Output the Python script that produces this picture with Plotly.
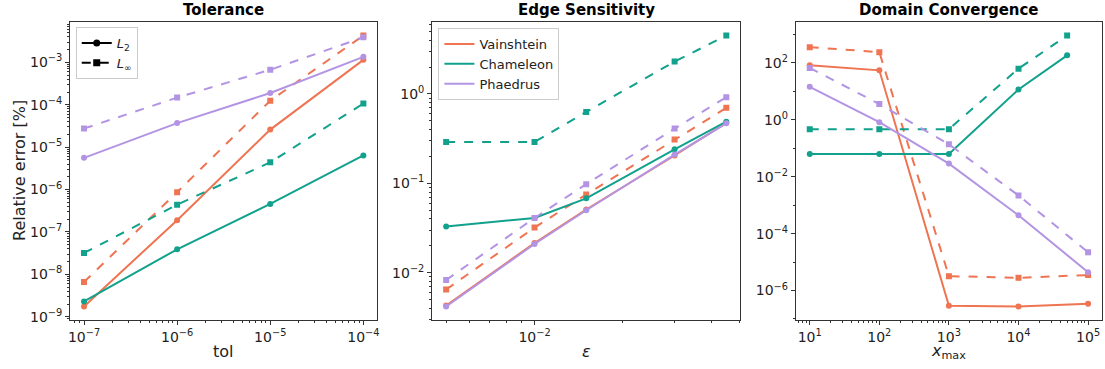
import numpy as np
import plotly.graph_objects as go

# ---------------- data ----------------
tol = [1e-7, 1e-6, 1e-5, 1e-4]
tol_vain_l2 = [1.75e-9, 1.9e-7, 2.6e-5, 1.15e-3]
tol_vain_linf = [6.6e-9, 8.7e-7, 1.25e-4, 4.3e-3]
tol_cham_l2 = [2.3e-9, 3.9e-8, 4.6e-7, 6.4e-6]
tol_cham_linf = [3.2e-8, 4.4e-7, 4.4e-6, 1.07e-4]
tol_phae_l2 = [5.6e-6, 3.7e-5, 1.9e-4, 1.35e-3]
tol_phae_linf = [2.75e-5, 1.48e-4, 6.7e-4, 3.9e-3]

eps = [0.005, 0.01, 0.015, 0.03, 0.045]
eps_vain_l2 = [0.0043, 0.0215, 0.051, 0.205, 0.475]
eps_vain_linf = [0.0065, 0.032, 0.075, 0.31, 0.70]
eps_cham_l2 = [0.033, 0.041, 0.068, 0.24, 0.49]
eps_cham_linf = [0.29, 0.29, 0.63, 2.3, 4.5]
eps_phae_l2 = [0.0042, 0.021, 0.050, 0.21, 0.47]
eps_phae_linf = [0.0083, 0.041, 0.098, 0.41, 0.92]

xmax = [1e1, 1e2, 1e3, 1e4, 1e5]
xmax_cham = [1e1, 1e2, 1e3, 1e4, 5e4]
dom_vain_l2 = [83, 55, 2.9e-7, 2.75e-7, 3.4e-7]
dom_vain_linf = [360, 240, 3.2e-6, 2.8e-6, 3.5e-6]
dom_cham_l2 = [0.063, 0.063, 0.063, 11.7, 185]
dom_cham_linf = [0.47, 0.47, 0.47, 63, 920]
dom_phae_l2 = [14.5, 0.83, 0.029, 4.4e-4, 4.4e-6]
dom_phae_linf = [67, 3.6, 0.138, 2.2e-3, 2.2e-5]

series_names = ["Vainshtein", "Chameleon", "Phaedrus"]
colors = ["#EE7452", "#11A18C", "#B394E4"]

panel_titles = ["Tolerance", "Edge Sensitivity", "Domain Convergence"]

W, H = 1105, 369
TOP, BOT = 22, 320
FONT = "DejaVu Sans"

fig = go.Figure()


def add_pair(x, yl2, ylinf, color, xa, ya):
    fig.add_trace(go.Scatter(x=x, y=yl2, mode="lines+markers", xaxis=xa, yaxis=ya,
                             line=dict(color=color, width=2),
                             marker=dict(symbol="circle", size=6, color=color),
                             showlegend=False))
    fig.add_trace(go.Scatter(x=x, y=ylinf, mode="lines+markers", xaxis=xa, yaxis=ya,
                             line=dict(color=color, width=2, dash="dash"),
                             marker=dict(symbol="square", size=6, color=color),
                             showlegend=False))


panels = [
    ([(tol_vain_l2, tol_vain_linf, tol), (tol_cham_l2, tol_cham_linf, tol), (tol_phae_l2, tol_phae_linf, tol)], "x", "y"),
    ([(eps_vain_l2, eps_vain_linf, eps), (eps_cham_l2, eps_cham_linf, eps), (eps_phae_l2, eps_phae_linf, eps)], "x2", "y2"),
    ([(dom_vain_l2, dom_vain_linf, xmax), (dom_cham_l2, dom_cham_linf, xmax_cham), (dom_phae_l2, dom_phae_linf, xmax)], "x3", "y3"),
]

ranges = []
for groups, xa, ya in panels:
    allx, ally = [], []
    for (l2, linf, xv), c in zip(groups, colors):
        add_pair(xv, l2, linf, c, xa, ya)
        allx += list(xv)
        ally += list(l2) + list(linf)
    lx = np.log10(allx)
    ly = np.log10(ally)
    mx = 0.05 * (lx.max() - lx.min())
    my = 0.05 * (ly.max() - ly.min())
    ranges.append(([lx.min() - mx, lx.max() + mx], [ly.min() - my, ly.max() + my]))

# legend 1 entries (norm types)
fig.add_trace(go.Scatter(x=[None], y=[None], mode="lines+markers", name="<i>L</i><sub>2</sub>",
                         line=dict(color="black", width=2), marker=dict(symbol="circle", size=7, color="black"),
                         legend="legend"))
fig.add_trace(go.Scatter(x=[None], y=[None], mode="lines+markers", name="<i>L</i><sub>∞</sub>",
                         line=dict(color="black", width=2, dash="dash"), marker=dict(symbol="square", size=7, color="black"),
                         legend="legend"))
# legend 2 entries (series)
for n, c in zip(series_names, colors):
    fig.add_trace(go.Scatter(x=[None], y=[None], mode="lines", name=n, xaxis="x2", yaxis="y2",
                             line=dict(color=c, width=2), legend="legend2"))


def minor_vals(lo, hi):
    vals = []
    for d in range(int(np.floor(lo)) - 1, int(np.ceil(hi)) + 1):
        for m in range(2, 10):
            v = m * 10.0 ** d
            if lo <= np.log10(v) <= hi:
                vals.append(v)
    return vals


def sup(e):
    s = str(e).replace("-", "−")
    return "10<sup>" + s + "</sup>"


def ax_common():
    return dict(type="log", showline=True, linecolor="#333333", linewidth=1, mirror=True,
                ticks="outside", ticklen=4, tickwidth=1, tickcolor="#333333",
                showgrid=False, zeroline=False,
                tickfont=dict(family=FONT, size=14, color="#222222"))


doms = [(68.3, 376.7), (431.7, 741.0), (796.7, 1104.0)]
xmaj = [[-7, -6, -5, -4], [-2], [1, 2, 3, 4, 5]]
ymaj = [list(range(-9, -2)), [-2, -1, 0], [-6, -4, -2, 0, 2]]

layout = dict(width=W, height=H, margin=dict(l=0, r=0, t=TOP, b=H - BOT),
              paper_bgcolor="white", plot_bgcolor="white",
              font=dict(family=FONT, size=13, color="#222222"))

for i in range(3):
    xr, yr = ranges[i]
    sfx = "" if i == 0 else str(i + 1)
    xa = ax_common()
    xa.update(domain=[doms[i][0] / W, doms[i][1] / W], range=xr, anchor="y" + sfx,
              tickmode="array", tickvals=[10.0 ** e for e in xmaj[i]], ticktext=[sup(e) for e in xmaj[i]],
              minor=dict(tickmode="array", tickvals=minor_vals(*xr), ticks="outside", ticklen=2,
                         tickwidth=0.8, tickcolor="#333333"))
    ya = ax_common()
    if i == 2:
        ymin = [10.0 ** e for e in range(-7, 4, 2)]
    else:
        ymin = minor_vals(*yr)
    ya.update(domain=[0, 1], range=yr, anchor="x" + sfx,
              tickmode="array", tickvals=[10.0 ** e for e in ymaj[i]], ticktext=[sup(e) for e in ymaj[i]],
              minor=dict(tickmode="array", tickvals=ymin, ticks="outside", ticklen=2,
                         tickwidth=0.8, tickcolor="#333333"))
    layout["xaxis" + sfx] = xa
    layout["yaxis" + sfx] = ya

ph = BOT - TOP
annotations = []
for i, t in enumerate(panel_titles):
    cx = (doms[i][0] + doms[i][1]) / 2 / W
    annotations.append(dict(text="<b>" + t + "</b>", x=cx, y=1 + (TOP - 10) / ph, xref="paper", yref="paper",
                            xanchor="center", yanchor="middle", showarrow=False,
                            font=dict(family=FONT, size=15, color="black")))
xtitles = ["tol", "<i>ε</i>", "<i>x</i><sub>max</sub>"]
for i, t in enumerate(xtitles):
    cx = (doms[i][0] + doms[i][1]) / 2 / W
    annotations.append(dict(text=t, x=cx, y=-(351 - BOT) / ph, xref="paper", yref="paper",
                            xanchor="center", yanchor="middle", showarrow=False,
                            font=dict(family=FONT, size=16, color="#222222")))
annotations.append(dict(text="Relative error [%]", x=18 / W, y=(BOT - 170) / ph, xref="paper", yref="paper",
                        xanchor="center", yanchor="middle", textangle=-90, showarrow=False,
                        font=dict(family=FONT, size=16, color="#222222")))
layout["annotations"] = annotations

layout["legend"] = dict(x=74 / W, y=(BOT - 27) / ph, xanchor="left", yanchor="top",
                        bgcolor="rgba(255,255,255,0.85)", bordercolor="#cccccc", borderwidth=1,
                        font=dict(family=FONT, size=13, color="#222222"), itemwidth=30, tracegroupgap=0)
layout["legend2"] = dict(x=438 / W, y=(BOT - 28) / ph, xanchor="left", yanchor="top",
                         bgcolor="rgba(255,255,255,0.85)", bordercolor="#cccccc", borderwidth=1,
                         font=dict(family=FONT, size=13, color="#222222"), itemwidth=30, tracegroupgap=0)

fig.update_layout(**layout)
fig.write_html("out.html")
